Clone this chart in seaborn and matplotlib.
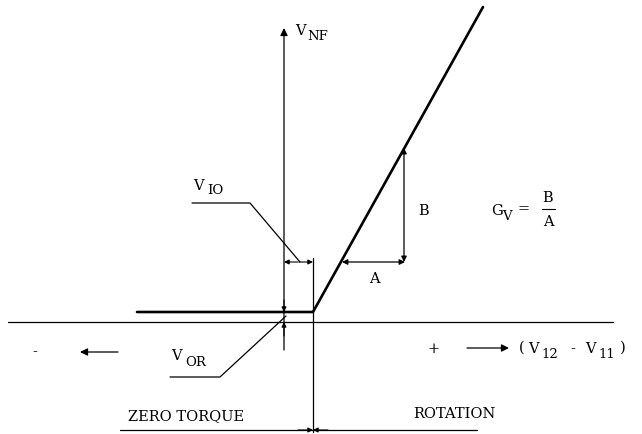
import matplotlib
matplotlib.use("Agg")
import matplotlib.pyplot as plt
import seaborn as sns
import pandas as pd

# transfer characteristic (figure pixel units, y grows downward)
curve_x = [137, 313, 483]
curve_y = [312, 312, 7]

axis_y = 322          # horizontal (V12 - V11) axis
axis_x = 284          # vertical V_NF axis
knee_x = 313          # zero-torque / rotation boundary

# A / B slope triangle
a_x = [342, 405]
a_y = 262
b_x = 404
b_y = [262, 148]

sns.set_theme(style="white")
plt.rcParams['font.family'] = ['DejaVu Serif']

fig = plt.figure(figsize=(6.42, 4.34), dpi=100)
ax = fig.add_axes([0, 0, 1, 1])
ax.set_xlim(0, 642)
ax.set_ylim(434, 0)
ax.axis("off")

df = pd.DataFrame({"x": curve_x, "y": curve_y})
sns.lineplot(data=df, x="x", y="y", sort=False, ax=ax, color="black", lw=1.9)

k = dict(color="black", lw=0.9)


def arrow(p_to, p_from, size=7, style="-|>", lw=0.8):
    ax.annotate("", xy=p_to, xytext=p_from,
                arrowprops=dict(arrowstyle=style, color="black", lw=lw,
                                mutation_scale=size, shrinkA=0, shrinkB=0))


# axes
ax.plot([8, 613], [axis_y, axis_y], **k)
arrow((axis_x, 28), (axis_x, 350), size=11, lw=0.9)
ax.plot([knee_x, knee_x], [258, 432], **k)

# V_IO dimension
arrow((axis_x, 262), (298, 262))
arrow((knee_x, 262), (299, 262))
ax.plot([192, 250, 300], [203, 203, 262], **k)

# V_OR dimension
arrow((axis_x, 312), (axis_x, 300))
arrow((axis_x, 322), (axis_x, 336))
ax.plot([170, 220, 286], [377, 377, 316], **k)

# A and B arrows
arrow((a_x[0], a_y), (a_x[1], a_y), size=8, style="<|-|>", lw=0.9)
arrow((b_x, b_y[1]), (b_x, b_y[0]), size=8, style="<|-|>", lw=0.9)

# polarity arrows
arrow((80, 352), (118, 352), size=11, lw=0.9)
arrow((509, 348), (467, 348), size=11, lw=0.9)

# bottom dimension line
ax.plot([120, 477], [430, 430], **k)
arrow((knee_x, 430), (298, 430))
arrow((knee_x, 430), (328, 430))

t = dict(color="black", fontsize=10.5, va="center", ha="left")
s = dict(color="black", fontsize=9.5, va="center", ha="left")
c = dict(color="black", fontsize=10.5, va="center", ha="center")

ax.text(295, 31, "V", **t)
ax.text(307, 36, "NF", **s)
ax.text(193, 186, "V", **t)
ax.text(207, 191, "IO", **s)
ax.text(171, 356, "V", **t)
ax.text(185, 362, "OR", **s)
ax.text(418, 211, "B", **t)
ax.text(374, 279, "A", **c)

# gain formula
ax.text(491, 211, "G", **t)
ax.text(502, 217, "V", **s)
ax.text(524, 209, "=", **c)
ax.text(548, 198, "B", **c)
ax.plot([542, 555], [209, 209], color="black", lw=0.8)
ax.text(548, 222, "A", **c)

# polarity labels
ax.text(35, 352, "-", **c)
ax.text(434, 349, "+", **c)
ax.text(522, 348, "(", **c)
ax.text(533, 349, "V", **c)
ax.text(541, 355, "12", **s)
ax.text(573, 349, "-", **c)
ax.text(590, 349, "V", **c)
ax.text(598, 355, "11", **s)
ax.text(623, 348, ")", **c)

ax.text(186, 416, "ZERO TORQUE", **c)
ax.text(454, 414, "ROTATION", **c)

fig.savefig("out.png", dpi=100)
